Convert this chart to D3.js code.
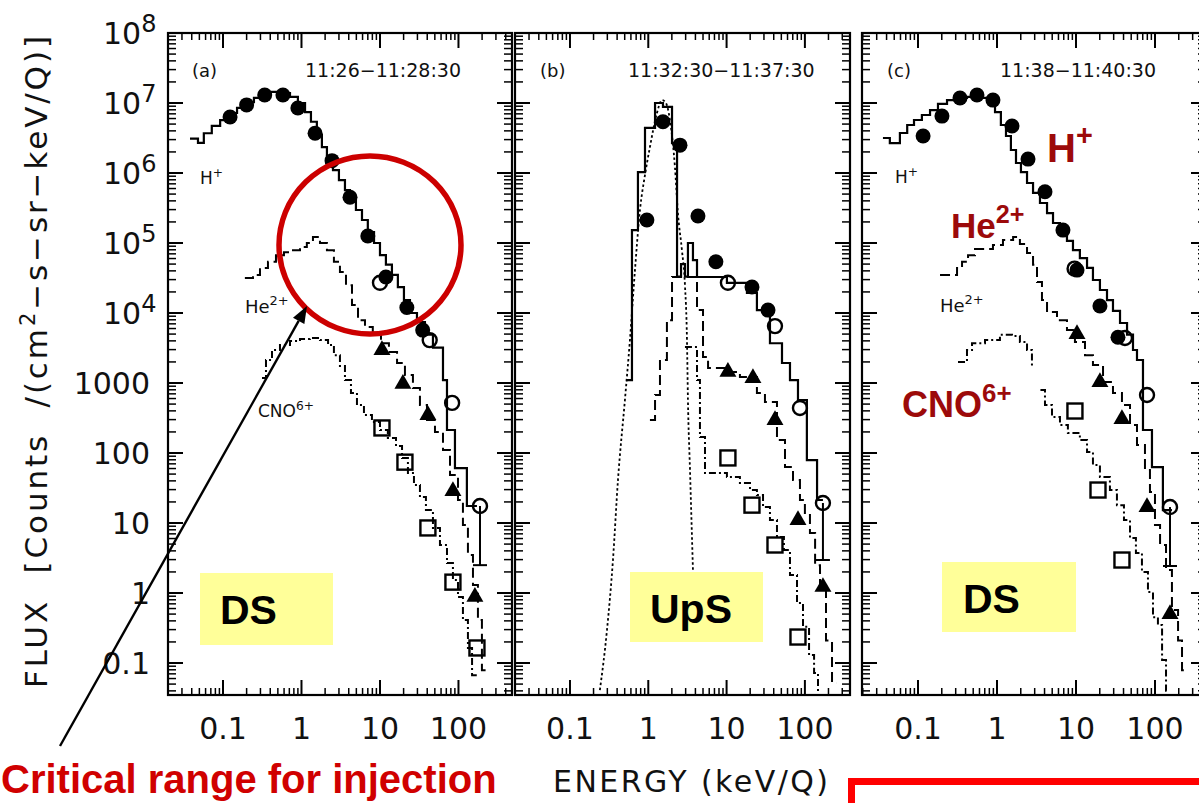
<!DOCTYPE html>
<html><head><meta charset="utf-8">
<script src="https://cdn.jsdelivr.net/npm/d3@7"></script>
<style>html,body{margin:0;padding:0;background:#fff;overflow:hidden}svg{display:block}text{white-space:pre}</style>
</head><body><svg id="chart" width="1199" height="803"></svg>
<script>
// ---------------- DATA ----------------
const yTickVals = [1e8,1e7,1e6,1e5,1e4,1000,100,10,1,0.1];
const yTickBase = ['10','10','10','10','10','1000','100','10','1','0.1'];
const yTickExp  = ['8','7','6','5','4','','','','',''];
const xTickVals = [0.1,1,10,100];
const xTickText = ['0.1','1','10','100'];
const panelTags  = ['(a)','(b)','(c)'];
const panelTimes = ['11:26\u221211:28:30','11:32:30\u221211:37:30','11:38\u221211:40:30'];
const regionLabels = ['DS','UpS','DS'];

// Panel (a)  [energy keV/Q, flux] ; histogram points are bin left edges, last = right edge
const aH = [[0.038,3.1e6],[0.048,2.7e6],[0.057,3.7e6],[0.072,4.7e6],[0.092,5.7e6],[0.116,7.2e6],[0.151,8.5e6],[0.19,1.03e7],[0.248,1.18e7],[0.314,1.35e7],[0.408,1.44e7],[0.548,1.39e7],[0.714,1.22e7],[0.90,1.0e7],[1.11,7.4e6],[1.32,5.4e6],[1.57,3.5e6],[1.82,2.35e6],[2.11,1.53e6],[2.52,1.1e6],[3.0,7.9e5],[3.58,5.7e5],[4.15,4.1e5],[4.94,2.96e5],[5.9,2.13e5],[7.0,1.43e5],[8.4,1.0e5],[10,6.7e4],[11.9,4.9e4],[14.2,3.5e4],[16.9,2.35e4],[20.2,1.53e4],[24.1,1.0e4],[29.6,7.4e3],[37.4,4.9e3],[47.3,3.2e3],[63.5,1.1e3],[71.4,213],[90.2,61],[128,17.5],[172,17.5]];
const aHe = [[0.19,3.16e4],[0.241,3.5e4],[0.296,4.4e4],[0.374,5.4e4],[0.473,6.7e4],[0.598,7.4e4],[0.757,7.9e4],[0.957,8.8e4],[1.17,1.0e5],[1.40,1.22e5],[1.72,1.0e5],[2.11,7.9e4],[2.59,5.4e4],[3.09,3.85e4],[3.69,2.5e4],[4.40,1.3e4],[5.25,7.9e3],[6.44,6.3e3],[8.1,5.2e3],[10.3,3.7e3],[13.0,2.77e3],[16.5,1.93e3],[20.8,1.3e3],[26.3,849],[32.3,485],[39.7,296],[50.2,200],[63.5,110],[78,48.5],[98.6,21.3],[114,9.4],[132,3.5],[153,1.3],[177,0.41],[199,0.079],[252,0.079]];
const aCNO = [[0.314,1.18e3],[0.353,2.13e3],[0.421,2.96e3],[0.532,3.5e3],[0.714,3.98e3],[0.957,4.25e3],[1.28,4.4e3],[1.72,4.1e3],[2.18,3.5e3],[2.59,2.5e3],[3.09,1.75e3],[3.58,1.1e3],[4.27,720],[5.09,485],[6.25,349],[7.9,277],[10,213],[12.6,164],[16.0,126],[19.1,85],[22.7,51.8],[27.1,34.9],[32.3,23.5],[38.5,15.3],[47.3,8.5],[58.1,4.85],[71.4,2.68],[85,1.53],[98.6,0.88],[114,0.41],[132,0.164],[149,0.067],[177,0.067]];
const aFilled = [[0.123,6.3e6],[0.20,9.4e6],[0.34,1.3e7],[0.58,1.3e7],[0.90,8.5e6],[1.49,3.7e6],[2.45,1.5e6],[4.15,4.5e5],[7.0,1.26e5],[11.9,3.27e4],[22,1.2e4],[35,5.7e3]];
const aOpen = [[10,2.7e4],[43,4.1e3],[83,520],[188,17.5]];
const aTri = [[10.6,2960],[19.6,970],[40.8,349],[85,28.6],[162,0.88]];
const aSq = [[10.6,228],[20.8,74],[40.8,8.5],[85,1.43],[172,0.164]];
const aErr = [[188,17.5,2.5]];

// Panel (b)
const bH = [[0.519,1.1e3],[0.619,1.53e5],[0.738,1.03e6],[0.908,4.4e6],[1.22,1.0e7],[1.54,8.8e6],[2.01,2.68e6],[2.33,3.3e4],[2.62,5.0e4],[2.94,3.3e4],[3.21,1.0e5],[3.72,5.7e4],[4.19,3.27e4],[10.1,2.7e4],[18.2,1.93e4],[24.4,1.1e4],[35.8,3.7e3],[51,1.93e3],[64.5,1.1e3],[81.6,571],[106,79],[143,21.3],[170,21.3]];
const bHe = [[1.05,296],[1.22,674],[1.41,2.13e3],[1.73,7.9e3],[2.01,3.27e4],[4.19,1.1e4],[5.0,2.35e3],[5.8,1.64e3],[10.1,1.44e3],[14.8,1.22e3],[24.4,720],[30.9,535],[44,153],[55.7,63],[70.5,41],[86.5,21.3],[100,13.9],[116,7.2],[135,2.5],[156,1.1],[186,0.21],[222,0.052],[250,0.052]];
const bCNO = [[2.94,3.27e3],[4.19,1.1e3],[4.57,169],[5.3,51.8],[10.1,45.4],[14.8,37.3],[19.9,29.6],[24.4,25.1],[29.2,16.9],[35.8,11],[44,6.3],[54,4.1],[64.5,1.81],[79.3,0.72],[94.6,0.33],[113,0.13],[131,0.072],[147,0.033],[165,0.033]];
const bModel = [[0.241,0.041],[0.297,0.296],[0.354,2.96],[0.41,41],[0.503,571],[0.583,4.1e3],[0.676,4.1e4],[0.783,2.96e5],[0.908,9.4e5],[1.05,2.35e6],[1.29,7.2e6],[1.50,1.1e7],[1.68,1.0e7],[1.89,5.72e6],[2.19,1.22e6],[2.39,2.68e5],[2.69,7.9e4],[2.94,2.5e4],[3.12,4.1e3],[3.21,571],[3.41,57],[3.72,2.13]];
const bFilled = [[0.96,2.13e5],[1.54,5.4e6],[2.54,2.5e6],[4.31,2.43e5],[7.3,5.4e4],[21.1,2.35e4],[33.8,1.1e4]];
const bOpen = [[10.4,2.7e4],[41.5,6.5e3],[86.5,440],[170,19.3]];
const bTri = [[10.4,1.44e3],[21.7,1.18e3],[41.5,296],[81.6,11],[170,1.22]];
const bSq = [[10.4,85],[21.1,18],[41.5,4.85],[81.6,0.235]];
const bErr = [[170,19.3,2.96]];

// Panel (c)
const cH = [[0.036,3.16e6],[0.044,2.68e6],[0.059,3.73e6],[0.073,4.85e6],[0.089,5.72e6],[0.112,6.74e6],[0.142,7.9e6],[0.179,9.7e6],[0.233,1.1e7],[0.312,1.18e7],[0.417,1.22e7],[0.61,1.18e7],[0.815,1.0e7],[0.944,7.4e6],[1.12,4.85e6],[1.30,3.38e6],[1.50,2.13e6],[1.74,1.39e6],[2.01,1.03e6],[2.40,7.2e5],[2.86,5.2e5],[3.50,3.73e5],[4.30,2.68e5],[5.12,1.93e5],[6.27,1.39e5],[7.69,1.07e5],[9.16,7.9e4],[11.2,6.1e4],[13.8,4.4e4],[16.4,2.96e4],[20.1,2.13e4],[24.7,1.53e4],[29.4,1.07e4],[36.1,7.2e3],[44.3,4.9e3],[52.7,2.96e3],[59.2,2.13e3],[70.5,213],[91.6,63],[126,15.3],[164,15.3]];
const cHe = [[0.19,3.5e4],[0.312,4.4e4],[0.361,5.4e4],[0.43,6.7e4],[0.527,8.2e4],[0.889,9.4e4],[1.19,1.1e5],[1.60,1.22e5],[1.95,9.7e4],[2.40,7.2e4],[2.86,4.9e4],[3.21,2.77e4],[3.71,1.53e4],[4.30,1.03e4],[5.75,7.9e3],[7.69,5.7e3],[9.7,3.85e3],[13,2.5e3],[16.4,1.81e3],[22,1.03e3],[29.4,720],[38.2,485],[48.3,251],[59.2,130],[74.7,57],[86.4,27.7],[100,9.4],[116,4.85],[138,2.13],[164,0.57],[196,0.21],[220,0.079],[262,0.079]];
const cCNO = [[0.321,2.0e3],[0.417,2.96e3],[0.483,3.7e3],[0.705,4.1e3],[1.09,4.9e3],[1.55,4.7e3],[1.95,3.85e3],[2.40,2.96e3],[2.77,1.53e3],[3.30,794],[4.05,485],[4.97,327],[6.27,251],[7.9,193],[11.2,153],[13.8,103],[16.4,67.4],[20.1,45.4],[26.9,29.6],[33,18],[40.5,11],[48.3,6.1],[57.4,3.73],[68.4,2.0],[81.5,1.03],[94.4,0.45],[109,0.35],[123,0.11],[138,0.04],[146,0.04]];
const cFilled = [[0.116,3.38e6],[0.201,6.5e6],[0.34,1.18e7],[0.558,1.3e7],[0.889,1.1e7],[1.55,4.69e6],[2.47,1.58e6],[4.05,5.4e5],[6.84,1.53e5],[10.3,4.1e4],[20.1,1.26e4],[34,4.5e3]];
const cOpen = [[9.6,4.3e4],[41.7,4.4e3],[79.3,674],[155,16.9]];
const cTri = [[10.3,5.0e3],[20.1,1.03e3],[38.2,306],[79.3,16.9],[155,0.5]];
const cSq = [[9.7,398],[19,29.6],[38.2,2.96]];
const cErr = [[155,16.9,2.43]];

// ---------------- LAYOUT ----------------
const W = 1199, H = 803, Y0 = 33, Y1 = 695;
const layout = [
  {left:168, right:512, lo:-1.7006, hi:2.682, tagX:192, timeX:305, box:[200,573,133,72], boxTx:220},
  {left:515, right:850, lo:-1.702,  hi:2.576, tagX:540, timeX:628, box:[630,572,133,70], boxTx:650},
  {left:862, right:1206, lo:-1.709, hi:2.646, tagX:887, timeX:1000, box:[942,562,134,70], boxTx:963}
];
const series = [
  {H:aH, He:aHe, CNO:aCNO, model:null, fc:aFilled, oc:aOpen, tri:aTri, sq:aSq, err:aErr},
  {H:bH, He:bHe, CNO:bCNO, model:bModel, fc:bFilled, oc:bOpen, tri:bTri, sq:bSq, err:bErr},
  {H:cH, He:cHe, CNO:cCNO, model:null, fc:cFilled, oc:cOpen, tri:cTri, sq:cSq, err:cErr}
];

const NUMFONT = "'DejaVu Sans', Verdana, sans-serif";
const BOLDFONT = "'Liberation Sans', Arial, Helvetica, sans-serif";
const svg = d3.select('#chart');
svg.append('rect').attr('width',W).attr('height',H).attr('fill','#fff');
const defs = svg.append('defs');

const y = d3.scaleLog().domain([Math.pow(10,-1.457), 1e8]).range([Y1, Y0]);

function decadeTicks(lo, hi){
  const out=[];
  for(let d=-3; d<=9; d++) for(let m=1;m<=9;m++){
    const v = m*Math.pow(10,d);
    if(v>=lo*0.999 && v<=hi*1.001) out.push({v, major:m===1});
  }
  return out;
}

layout.forEach((L,i)=>{
  const S = series[i];
  const x = d3.scaleLog().domain([Math.pow(10,L.lo), Math.pow(10,L.hi)]).range([L.left, L.right]);
  const g = svg.append('g');
  const cid = 'clip'+i;
  defs.append('clipPath').attr('id',cid).append('rect')
    .attr('x',L.left).attr('y',Y0).attr('width',L.right-L.left).attr('height',Y1-Y0);

  g.append('rect').attr('x',L.left).attr('y',Y0).attr('width',L.right-L.left).attr('height',Y1-Y0)
    .attr('fill','none').attr('stroke','#000').attr('stroke-width',2.2);

  const yt = decadeTicks(y.domain()[0], y.domain()[1]);
  yt.forEach(t=>{
    const len = t.major?15:8, yy=y(t.v);
    g.append('line').attr('x1',L.left).attr('x2',L.left+len).attr('y1',yy).attr('y2',yy)
      .attr('stroke','#000').attr('stroke-width',t.major?2:1.5);
    g.append('line').attr('x1',L.right).attr('x2',L.right-len).attr('y1',yy).attr('y2',yy)
      .attr('stroke','#000').attr('stroke-width',t.major?2:1.5);
  });
  const xt = decadeTicks(x.domain()[0], x.domain()[1]);
  xt.forEach(t=>{
    const len = t.major?15:7, xx=x(t.v);
    g.append('line').attr('x1',xx).attr('x2',xx).attr('y1',Y1).attr('y2',Y1-len)
      .attr('stroke','#000').attr('stroke-width',t.major?2:1.5);
    g.append('line').attr('x1',xx).attr('x2',xx).attr('y1',Y0).attr('y2',Y0+len)
      .attr('stroke','#000').attr('stroke-width',t.major?2:1.5);
  });
  xTickVals.forEach((v,k)=>{
    svg.append('text').attr('x',x(v)).attr('y',739).attr('text-anchor','middle')
      .attr('font-family',NUMFONT).attr('font-size',30).attr('fill','#111').text(xTickText[k]);
  });

  svg.append('text').attr('x',L.tagX).attr('y',77).attr('font-family',NUMFONT).attr('font-size',18).attr('fill','#111').text(panelTags[i]);
  svg.append('text').attr('x',L.timeX).attr('y',77).attr('font-family',NUMFONT).attr('font-size',19).attr('fill','#111').text(panelTimes[i]);

  const cg = svg.append('g').attr('clip-path',`url(#${cid})`);
  const step = d3.line().x(d=>x(d[0])).y(d=>y(d[1])).curve(d3.curveStepAfter);
  cg.append('path').attr('d',step(S.H)).attr('fill','none').attr('stroke','#000').attr('stroke-width',2.2);
  cg.append('path').attr('d',step(S.He)).attr('fill','none').attr('stroke','#000').attr('stroke-width',2)
    .attr('stroke-dasharray','10,5');
  cg.append('path').attr('d',step(S.CNO)).attr('fill','none').attr('stroke','#000').attr('stroke-width',2)
    .attr('stroke-dasharray','7,3,2,3');
  if(S.model){
    const lin = d3.line().x(d=>x(d[0])).y(d=>y(d[1])).curve(d3.curveMonotoneX);
    cg.append('path').attr('d',lin(S.model)).attr('fill','none').attr('stroke','#000').attr('stroke-width',1.8)
      .attr('stroke-dasharray','2.5,2.5');
  }
  S.err.forEach(e=>{
    cg.append('line').attr('x1',x(e[0])).attr('x2',x(e[0])).attr('y1',y(e[1])).attr('y2',y(e[2]))
      .attr('stroke','#000').attr('stroke-width',2);
    cg.append('line').attr('x1',x(e[0])-7).attr('x2',x(e[0])+7).attr('y1',y(e[2])).attr('y2',y(e[2]))
      .attr('stroke','#000').attr('stroke-width',2);
  });
  S.fc.forEach(d=>cg.append('circle').attr('cx',x(d[0])).attr('cy',y(d[1])).attr('r',7.5).attr('fill','#000'));
  S.oc.forEach(d=>cg.append('circle').attr('cx',x(d[0])).attr('cy',y(d[1])).attr('r',7).attr('fill','none')
    .attr('stroke','#000').attr('stroke-width',2.4));
  const tri = d3.symbol().type(d3.symbolTriangle).size(125);
  S.tri.forEach(d=>cg.append('path').attr('d',tri()).attr('transform',`translate(${x(d[0])},${y(d[1])})`).attr('fill','#000'));
  S.sq.forEach(d=>cg.append('rect').attr('x',x(d[0])-7.5).attr('y',y(d[1])-7.5).attr('width',15).attr('height',15)
    .attr('fill','none').attr('stroke','#000').attr('stroke-width',2.4));

  svg.append('rect').attr('x',L.box[0]).attr('y',L.box[1]).attr('width',L.box[2]).attr('height',L.box[3]).attr('fill','#ffff99');
  svg.append('text').attr('x',L.boxTx).attr('y',L.box[1]+51).attr('font-family',BOLDFONT).attr('font-weight','bold')
    .attr('font-size',41).attr('fill','#000').text(regionLabels[i]);
});

yTickVals.forEach((v,k)=>{
  const yy = y(v);
  if(yTickExp[k]){
    const t = svg.append('text').attr('x',103).attr('y',yy+11).attr('font-family',NUMFONT).attr('font-size',30).attr('fill','#111');
    t.append('tspan').text(yTickBase[k]);
    t.append('tspan').attr('dy',-12).attr('font-size',24).text(yTickExp[k]);
  } else {
    svg.append('text').attr('x',150).attr('y',yy+11).attr('text-anchor','end').attr('font-family',NUMFONT)
      .attr('font-size',30).attr('fill','#111').text(yTickBase[k]);
  }
});

function supLabel(xp, yp, base, sup, fs, fill, font, weight){
  const t = svg.append('text').attr('x',xp).attr('y',yp).attr('font-family',font).attr('font-size',fs).attr('fill',fill);
  if(weight) t.attr('font-weight',weight);
  t.append('tspan').text(base);
  t.append('tspan').attr('dy',-fs*0.42).attr('font-size',fs*0.72).text(sup);
  return t;
}
supLabel(200,184,'H','+',17,'#111',NUMFONT);
supLabel(245,313,'He','2+',18,'#111',NUMFONT);
supLabel(258,417,'CNO','6+',17,'#111',NUMFONT);
supLabel(895,183,'H','+',17,'#111',NUMFONT);
supLabel(940,312,'He','2+',18,'#111',NUMFONT);

// red overlay labels in panel (c)
svg.append('rect').attr('x',897).attr('y',366).attr('width',143).attr('height',58).attr('fill','#fff');
supLabel(1047,162,'H','+',40,'#9c0a0a',BOLDFONT,'bold');
supLabel(951,238,'He','2+',35,'#9c0a0a',BOLDFONT,'bold');
supLabel(902,417,'CNO','6+',36,'#9c0a0a',BOLDFONT,'bold');

// red circle + arrow
svg.append('ellipse').attr('cx',370).attr('cy',245).attr('rx',91).attr('ry',89)
  .attr('fill','none').attr('stroke','#cc0000').attr('stroke-width',5.5);
(function(){
  const x0=60,y0=746,x1=307,y1=306;
  const dx=x1-x0, dy=y1-y0, L=Math.hypot(dx,dy), ux=dx/L, uy=dy/L, px=-uy, py=ux;
  const bx=x1-ux*17, by=y1-uy*17;
  svg.append('line').attr('x1',x0).attr('y1',y0).attr('x2',bx).attr('y2',by).attr('stroke','#000').attr('stroke-width',2.4);
  svg.append('path').attr('d',`M${x1},${y1}L${bx+px*6.5},${by+py*6.5}L${bx-px*6.5},${by-py*6.5}Z`).attr('fill','#000');
})();

const ytl = svg.append('text').attr('transform','translate(47,688) rotate(-90)').attr('font-family',NUMFONT)
  .attr('font-size',31).attr('fill','#111').attr('textLength',652).attr('lengthAdjust','spacing');
ytl.append('tspan').text('FLUX  [Counts  /(cm');
ytl.append('tspan').attr('dy',-12).attr('font-size',21).text('2');
ytl.append('tspan').attr('dy',12).text('\u2212s\u2212sr\u2212keV/Q)]');

svg.append('text').attr('x',553).attr('y',792).attr('font-family',NUMFONT).attr('font-size',30)
  .attr('fill','#111').attr('textLength',275).attr('lengthAdjust','spacing').text('ENERGY (keV/Q)');

svg.append('text').attr('x',1).attr('y',793).attr('font-family',BOLDFONT).attr('font-weight','bold')
  .attr('font-size',40).attr('fill','#d00000').text('Critical range for injection');
svg.append('rect').attr('x',851.5).attr('y',781.5).attr('width',400).attr('height',60)
  .attr('fill','none').attr('stroke','#ff0000').attr('stroke-width',7);
</script></body></html>
